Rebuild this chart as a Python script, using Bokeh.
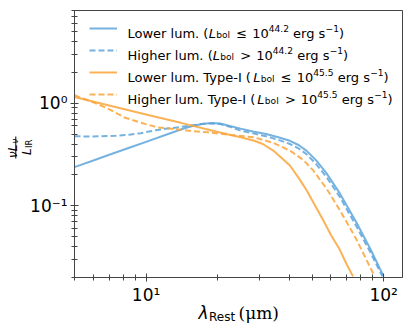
import math
from bokeh.plotting import figure
from bokeh.models import (Range1d, FixedTicker, CustomJSTickFormatter, Legend,
                          LegendItem, Label, BoxAnnotation, ColumnDataSource, GridBox,
                          Column, Plot)
from bokeh.embed import file_html
from bokeh.resources import INLINE

# ---------------- data ----------------
lam_low = [5, 6, 7, 8.5, 10, 12.3, 14.5, 16, 17.5, 19, 20.5, 22.5, 25, 28.5, 32, 36,
           40.3, 44, 47.4, 52, 57.5, 65.4, 76.8, 88, 100]
val_low = [0.238, 0.276, 0.314, 0.368, 0.42, 0.498, 0.57, 0.605, 0.63, 0.64, 0.633, 0.6,
           0.565, 0.527, 0.5, 0.465, 0.43, 0.389, 0.343, 0.277, 0.207, 0.132, 0.0686, 0.0377, 0.0205]

lam_high = [5, 6, 7.4, 8.5, 9.5, 11, 12.3, 14, 15.5, 17, 18.8, 20.5, 22.5, 25, 28.5, 32, 36,
            40.3, 44, 47.4, 52, 57.5, 65.4, 76.8, 88, 98.8]
val_high = [0.475, 0.474, 0.48, 0.493, 0.51, 0.545, 0.565, 0.587, 0.607, 0.625, 0.635, 0.625,
            0.59, 0.54, 0.505, 0.475, 0.44, 0.40, 0.36, 0.318, 0.255, 0.19, 0.122, 0.063, 0.035, 0.0205]

lam_t1_low = [5, 7, 10, 14, 18, 22, 25, 28.5, 31, 34.3, 37, 40.3, 44, 47.4, 51, 55.6, 60,
              65.4, 70, 74.3]
val_t1_low = [1.15, 0.951, 0.777, 0.643, 0.558, 0.498, 0.465, 0.43, 0.40, 0.345, 0.295, 0.247,
              0.185, 0.1416, 0.104, 0.0726, 0.052, 0.0372, 0.0266, 0.0205]

lam_t1_high = [5, 5.5, 6.07, 6.9, 8.11, 9.5, 11.2, 13.1, 15.5, 18.1, 22.7, 28.5, 34.3, 40.3,
               45.9, 50.5, 57.5, 65.4, 76.8, 91.6]
val_t1_high = [1.195, 1.10, 1.01, 0.887, 0.726, 0.645, 0.58, 0.56, 0.535, 0.52, 0.49, 0.465,
               0.41, 0.345, 0.28, 0.221, 0.147, 0.0907, 0.047, 0.0205]

legend_prefix = ["Lower lum. (", "Higher lum. (", "Lower lum. Type-I (", "Higher lum. Type-I ("]
legend_rel = ["\u2264", ">", "\u2264", ">"]
legend_exp = ["44.2", "44.2", "45.5", "45.5"]

x_major = [10, 100]
x_major_labels = ["10\u00b9", "10\u00b2"]
x_minor = [5, 6, 7, 8, 9, 20, 30, 40, 50, 60, 70, 80, 90]
y_major = [0.1, 1]
y_major_labels = ["10\u207b\u00b9", "10\u2070"]
y_minor = [0.02, 0.03, 0.04, 0.05, 0.06, 0.07, 0.08, 0.09,
           0.2, 0.3, 0.4, 0.5, 0.6, 0.7, 0.8, 0.9, 2, 3, 4, 5, 6, 7, 8]

X0, X1 = 5, 120
Y0, Y1 = 0.02, 8

BLUE = "#5DA5DA"
ORANGE = "#FAA43A"
AX = "#444444"

# ---------------- main figure ----------------
FL, FR, FT, FB = 74, 402, 10, 277   # frame edges in page pixels
W, H = 415, 323
p = figure(width=W, height=H, x_axis_type="log", y_axis_type="log",
           x_range=Range1d(X0, X1), y_range=Range1d(Y0, Y1),
           output_backend="svg", toolbar_location=None,
           min_border_left=FL, min_border_right=W - FR, min_border_top=FT,
           min_border_bottom=H - FB)
p.xgrid.visible = False
p.ygrid.visible = False
p.outline_line_color = AX
p.outline_line_width = 1

series = [
    (lam_low, val_low, BLUE, "solid"),
    (lam_high, val_high, BLUE, "6 3"),
    (lam_t1_low, val_t1_low, ORANGE, "solid"),
    (lam_t1_high, val_t1_high, ORANGE, "6 3"),
]
rends = []
for lam, val, col, dash in series:
    src = ColumnDataSource(dict(x=lam, y=val))
    r = p.line("x", "y", source=src, line_color=col, line_width=2, line_alpha=0.85,
               line_dash=dash)
    rends.append(r)


def fmt(tvals, tlabels):
    return CustomJSTickFormatter(args=dict(tv=tvals, tl=tlabels), code="""
        for (let i = 0; i < tv.length; i++) {
            if (Math.abs(tv[i] - tick) < 1e-6 * tv[i]) return tl[i];
        }
        return '';
    """)


p.xaxis.ticker = FixedTicker(ticks=x_major, minor_ticks=x_minor)
p.yaxis.ticker = FixedTicker(ticks=y_major, minor_ticks=y_minor)
p.xaxis.formatter = fmt(x_major, x_major_labels)
p.yaxis.formatter = fmt(y_major, y_major_labels)
for ax in (p.xaxis[0], p.yaxis[0]):
    ax.axis_line_color = AX
    ax.major_tick_line_color = AX
    ax.minor_tick_line_color = AX
    ax.major_tick_in = 4
    ax.major_tick_out = 4
    ax.minor_tick_in = 3
    ax.minor_tick_out = 3
    ax.major_label_text_font = "DejaVu Sans"
    ax.major_label_text_font_size = "17px"
    ax.major_label_text_color = "black"
    ax.major_label_standoff = 3
    ax.axis_label = None

# legend swatches (the label texts are typeset on the overlay below)
F, f = 13, 9.1
ROW = 22
legend = Legend(items=[LegendItem(label=" ", renderers=[r]) for r in rends],
                location=(15, 172), glyph_width=28, glyph_height=ROW, label_height=ROW,
                spacing=0, padding=0, margin=0, label_standoff=10,
                label_text_font="DejaVu Sans", label_text_font_size=f"{F}px",
                border_line_color=None, background_fill_alpha=0)
p.add_layout(legend)

# ---------------- transparent text overlay (page-pixel coordinates) ----------------
ov = figure(width=W, height=H, x_range=Range1d(0, W), y_range=Range1d(H, 0),
            x_axis_location=None, y_axis_location=None, toolbar_location=None,
            output_backend="svg", min_border=0, outline_line_color=None,
            background_fill_color=None, border_fill_color=None)
ov.grid.visible = False

HAS_FRAME_ALIGN = "frame_align" in Plot.properties()
if HAS_FRAME_ALIGN:
    ov.frame_align = False
    p.frame_align = False


def lab(text, px, py, size, font="DejaVu Sans", style="normal", angle=0.0):
    ov.add_layout(Label(x=px, y=py, text=text, text_font=font,
                        text_font_size=f"{size}px", text_font_style=style, angle=angle,
                        text_align="left", text_baseline="alphabetic", text_color="black"))


EM = {' ': 0.318, '(': 0.390, ')': 0.390, '.': 0.318, '-': 0.361, 'L': 0.557, 'o': 0.612,
      'w': 0.818, 'e': 0.615, 'r': 0.411, 'l': 0.278, 'u': 0.634, 'm': 0.974, 'H': 0.752,
      'i': 0.278, 'g': 0.635, 'h': 0.634, 'T': 0.611, 'y': 0.592, 'p': 0.635, 'I': 0.295,
      'b': 0.635, '\u2264': 0.838, '>': 0.838, '0': 0.636, '1': 0.636, '2': 0.636,
      '4': 0.636, '5': 0.636, 's': 0.521, '\u2212': 0.838, 'R': 0.695, 't': 0.392}


def tw(s, size):
    return sum(EM.get(c, 0.6) for c in s) * size


for i in range(4):
    cy = 28 + ROW * i
    B = cy + 4.6
    x = 127
    lab(legend_prefix[i], x, B, F)
    x += tw(legend_prefix[i], F)
    lab("L", x, B, F, style="italic")
    x += tw("L", F)
    lab("bol", x + 0.3, B + 2.2, f)
    x += tw("bol", f) + 6.5
    lab(legend_rel[i], x, B, F)
    x += tw(legend_rel[i], F) + 5.0
    lab("10", x, B, F)
    x += tw("10", F)
    lab(legend_exp[i], x, B - 5, f)
    x += tw(legend_exp[i], f) + tw(" ", F)
    lab("erg s", x, B, F)
    x += tw("erg s", F)
    lab("\u22121", x, B - 5, f)
    x += tw("\u22121", f)
    lab(")", x, B, F)

# x-axis title
lab("\u03bb", 198, 312, 17, style="italic")
lab("Rest", 208.5, 316, 12)
lab("(\u03bcm)", 238, 312, 17, font="DejaVu Serif")

# y-axis title (rotated fraction)
ang = math.pi / 2
YS, ys = 12, 8.5
lab("\u03bdL", 12, 157.5, YS, style="italic", angle=ang)
lab("\u03bd", 14, 157.5 - tw("vL", YS) - 0.5, ys, style="italic", angle=ang)
ov.add_layout(BoxAnnotation(left=14.8, right=15.8, top=136, bottom=158,
                            fill_color="black", fill_alpha=1, line_color=None))
lab("L", 26, 154.6, YS, style="italic", angle=ang)
lab("IR", 28, 154.6 - tw("L", YS) - 0.3, ys, angle=ang)

ov_child = ov if HAS_FRAME_ALIGN else Column(children=[ov])
layout = GridBox(children=[(p, 0, 0), (ov_child, 0, 0)])
open("out.html", "w").write(file_html(layout, INLINE))
